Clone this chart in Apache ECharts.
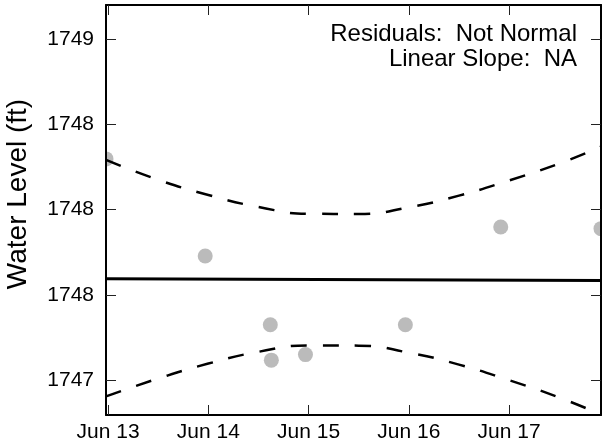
<!DOCTYPE html>
<html>
<head>
<meta charset="utf-8">
<script src="https://cdn.jsdelivr.net/npm/echarts@6/dist/echarts.min.js"></script>
<style>
html,body{margin:0;padding:0;background:#fff;}
#chart{width:602px;height:448px;}
</style>
</head>
<body>
<div id="chart"></div>
<script>
// ---- data ----
const obsTimes = ['2015-06-12T23:30Z','2015-06-13T23:15Z','2015-06-14T14:50Z','2015-06-14T15:05Z','2015-06-14T23:15Z','2015-06-15T23:10Z','2015-06-16T22:00Z','2015-06-17T22:00Z'];
const obsLevels = [1748.638, 1748.183, 1747.861, 1747.695, 1747.721, 1747.861, 1748.319, 1748.311];

const fitTimes = ['2015-06-12T23:30Z','2015-06-17T22:00Z'];
const fitLevels = [1748.076, 1748.068];

const bandTimes = ['2015-06-12T23:30Z','2015-06-13T12:00Z','2015-06-14T00:00Z','2015-06-14T12:00Z','2015-06-15T00:00Z','2015-06-15T12:00Z','2015-06-16T00:00Z','2015-06-16T12:00Z','2015-06-17T00:00Z','2015-06-17T12:00Z','2015-06-17T22:00Z'];
const upperBand = [1748.633, 1748.540, 1748.469, 1748.413, 1748.381, 1748.380, 1748.411, 1748.466, 1748.537, 1748.616, 1748.695];
const lowerBand = [1747.525, 1747.609, 1747.679, 1747.734, 1747.764, 1747.763, 1747.730, 1747.674, 1747.601, 1747.520, 1747.440];

const xTickDates = ['2015-06-13T00:00Z','2015-06-14T00:00Z','2015-06-15T00:00Z','2015-06-16T00:00Z','2015-06-17T00:00Z'];
const xTickLabels = ['Jun 13','Jun 14','Jun 15','Jun 16','Jun 17'];
const yTickValues = [1747.6, 1748.0, 1748.4, 1748.8, 1749.2];
const yTickLabels = ['1747','1748','1748','1748','1749'];

const annotationLines = ['Residuals:  Not Normal', 'Linear Slope:  NA'];
const yAxisTitle = 'Water Level (ft)';

const xMin = '2015-06-12T23:30Z', xMax = '2015-06-17T22:00Z';
const yMin = 1747.438, yMax = 1749.359;

// ---- build ----
const t = s => Date.parse(s);
const xTickValues = xTickDates.map(t);
const pair = (xs, ys) => xs.map((x, i) => [t(x), ys[i]]);
const nearestLabel = (vals, labels, v) => {
  let bi = 0, bd = Infinity;
  vals.forEach((u, i) => { const d = Math.abs(u - v); if (d < bd) { bd = d; bi = i; } });
  return labels[bi];
};

const FONT = '"Liberation Sans", Arial, Helvetica, sans-serif';
const frame = { show: true, onZero: false, lineStyle: { color: '#000', width: 2 } };
const tickStyle = { show: true, inside: true, length: 10, lineStyle: { color: '#222', width: 1 } };

const chart = echarts.init(document.getElementById('chart'), null, { renderer: 'canvas' });
chart.setOption({
  animation: false,
  backgroundColor: '#fff',
  grid: { left: 106, right: 1, top: 5, bottom: 33, containLabel: false, outerBoundsMode: 'none' },
  xAxis: [
    {
      type: 'value', position: 'bottom', min: t(xMin), max: t(xMax), z: 10, scale: true,
      axisLine: frame, splitLine: { show: false },
      axisTick: Object.assign({ customValues: xTickValues }, tickStyle),
      axisLabel: {
        customValues: xTickValues, margin: 7, color: '#000', fontSize: 21, fontFamily: FONT,
        formatter: v => nearestLabel(xTickValues, xTickLabels, v)
      }
    },
    {
      type: 'value', position: 'top', min: t(xMin), max: t(xMax), z: 10, scale: true,
      axisLine: frame, splitLine: { show: false },
      axisTick: Object.assign({ customValues: xTickValues }, tickStyle),
      axisLabel: { show: false }
    }
  ],
  yAxis: [
    {
      type: 'value', position: 'left', min: yMin, max: yMax, z: 10, scale: true,
      axisLine: frame, splitLine: { show: false },
      axisTick: Object.assign({ customValues: yTickValues }, tickStyle),
      axisLabel: {
        customValues: yTickValues, margin: 12, color: '#000', fontSize: 21, fontFamily: FONT,
        formatter: v => nearestLabel(yTickValues, yTickLabels, v)
      },
      name: yAxisTitle, nameLocation: 'middle', nameRotate: 90, nameGap: 74,
      nameTextStyle: { color: '#000', fontSize: 28, fontFamily: FONT, padding: [0, 0, 0, 32] }
    },
    {
      type: 'value', position: 'right', min: yMin, max: yMax, z: 10, scale: true,
      axisLine: frame, splitLine: { show: false },
      axisTick: Object.assign({ customValues: yTickValues }, tickStyle),
      axisLabel: { show: false }
    }
  ],
  graphic: [
    { type: 'rect', z: 5, silent: true, shape: { x: 0, y: 0, width: 105, height: 448 }, style: { fill: '#fff' } },
    { type: 'text', z: 20, style: { text: annotationLines[0], x: 577, y: 34, textAlign: 'right', textVerticalAlign: 'middle', font: '24px ' + FONT, fill: '#000' } },
    { type: 'text', z: 20, style: { text: annotationLines[1], x: 577, y: 59, textAlign: 'right', textVerticalAlign: 'middle', font: '24px ' + FONT, fill: '#000' } }
  ],
  series: [
    {
      type: 'scatter', data: pair(obsTimes, obsLevels), symbol: 'circle', symbolSize: 15,
      itemStyle: { color: '#aaaaaa' }, clip: false, z: 2, silent: true
    },
    {
      type: 'line', data: pair(fitTimes, fitLevels), symbol: 'none', z: 3, silent: true,
      lineStyle: { color: '#000', width: 3 }
    },
    {
      type: 'line', data: pair(bandTimes, upperBand), symbol: 'none', smooth: true, z: 3, silent: true,
      lineStyle: { color: '#000', width: 2.5, type: [16, 16] }
    },
    {
      type: 'line', data: pair(bandTimes, lowerBand), symbol: 'none', smooth: true, z: 3, silent: true,
      lineStyle: { color: '#000', width: 2.5, type: [16, 16] }
    }
  ]
});
</script>
</body>
</html>
